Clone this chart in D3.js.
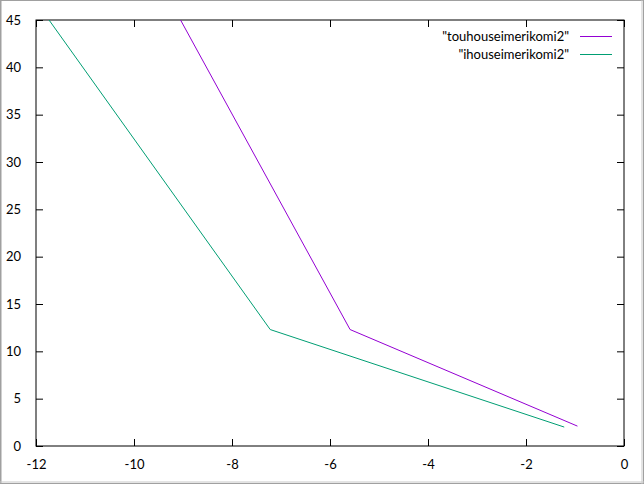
<!DOCTYPE html>
<html>
<head>
<meta charset="utf-8">
<script src="https://cdn.jsdelivr.net/npm/d3@7"></script>
<style>
  html, body { margin: 0; padding: 0; background: #fff; }
  svg { display: block; }
  text { font-family: Lato, "Open Sans", sans-serif; font-size: 13px; fill: #000; }
</style>
</head>
<body>
<div id="chart"></div>
<script>
// series data (x, y)
var seriesNames = ['"touhouseimerikomi2"', '"ihouseimerikomi2"'];
var seriesColors = ["#9400d3", "#009e73"];
var touX = [-9.6, -5.59, -0.95];
var touY = [50.2, 12.3, 2.1];
var ihoX = [-12.3, -7.22, -1.22];
var ihoY = [49.1, 12.3, 2.0];
var xTicks = [-12, -10, -8, -6, -4, -2, 0];
var yTicks = [0, 5, 10, 15, 20, 25, 30, 35, 40, 45];

var W = 644, H = 484;
var margin = {top: 20, right: 20, bottom: 38, left: 36};
var width = 624 - margin.left, height = 446 - margin.top;

var svg = d3.select("#chart").append("svg")
    .attr("width", W)
    .attr("height", H);

// window frame seen in the picture
svg.append("rect").attr("x", 0.5).attr("y", 0.5).attr("width", W - 1).attr("height", H - 1)
    .style("fill", "none").style("stroke", "#a0a0a0").style("stroke-width", 1);
svg.append("line").attr("x1", 1).attr("x2", 1).attr("y1", 0).attr("y2", H)
    .style("stroke", "#a0a0a0");
svg.append("line").attr("x1", 0).attr("x2", W).attr("y1", H - 2).attr("y2", H - 2)
    .style("stroke", "#c8c8c8");
svg.append("line").attr("x1", W - 2).attr("x2", W - 2).attr("y1", 0).attr("y2", H)
    .style("stroke", "#c8c8c8");

var x = d3.scaleLinear().domain([-12, 0]).range([0, width]);
var y = d3.scaleLinear().domain([0, 45]).range([height, 0]);

var main = svg.append("g")
    .attr("transform", "translate(" + margin.left + "," + margin.top + ")");

svg.append("defs").append("clipPath").attr("id", "clip")
  .append("rect").attr("width", width).attr("height", height);

// plain hyphen minus like gnuplot
var fmt = function(d) { return String(d); };

// ticks on all four sides, pointing inwards
main.append("g").attr("transform", "translate(0," + height + ")")
    .call(d3.axisBottom(x).tickValues(xTicks).tickSize(-7).tickPadding(14).tickFormat(fmt));
main.append("g")
    .call(d3.axisTop(x).tickValues(xTicks).tickSize(-7).tickFormat(""));
main.append("g")
    .call(d3.axisLeft(y).tickValues(yTicks).tickSize(-7).tickPadding(15).tickFormat(fmt));
main.append("g").attr("transform", "translate(" + width + ",0)")
    .call(d3.axisRight(y).tickValues(yTicks).tickSize(-7).tickFormat(""));

main.selectAll(".domain").remove();
main.selectAll(".tick line").style("stroke", "#000");
main.selectAll(".tick text").attr("font-family", null).attr("font-size", null);

main.append("rect").attr("x", 0).attr("y", 0).attr("width", width).attr("height", height)
    .style("fill", "none").style("stroke", "#000").style("stroke-width", 1);

var line = d3.line()
    .x(function(d) { return x(d[0]); })
    .y(function(d) { return y(d[1]); });

var series = [d3.zip(touX, touY), d3.zip(ihoX, ihoY)];

main.append("g").attr("clip-path", "url(#clip)")
  .selectAll("path.series")
  .data(series)
  .enter().append("path")
    .attr("class", "series")
    .attr("d", line)
    .style("fill", "none")
    .style("stroke", function(d, i) { return seriesColors[i]; })
    .style("stroke-width", 1);

// legend, top right
var legend = main.append("g");
seriesNames.forEach(function(name, i) {
  var ly = 16 + i * 18;
  legend.append("text")
      .attr("x", 533)
      .attr("y", ly)
      .attr("dy", "0.35em")
      .style("text-anchor", "end")
      .text(name);
  legend.append("line")
      .attr("x1", 544).attr("x2", 576)
      .attr("y1", ly + 0.5).attr("y2", ly + 0.5)
      .style("stroke", seriesColors[i])
      .style("stroke-width", 1);
});
</script>
</body>
</html>
